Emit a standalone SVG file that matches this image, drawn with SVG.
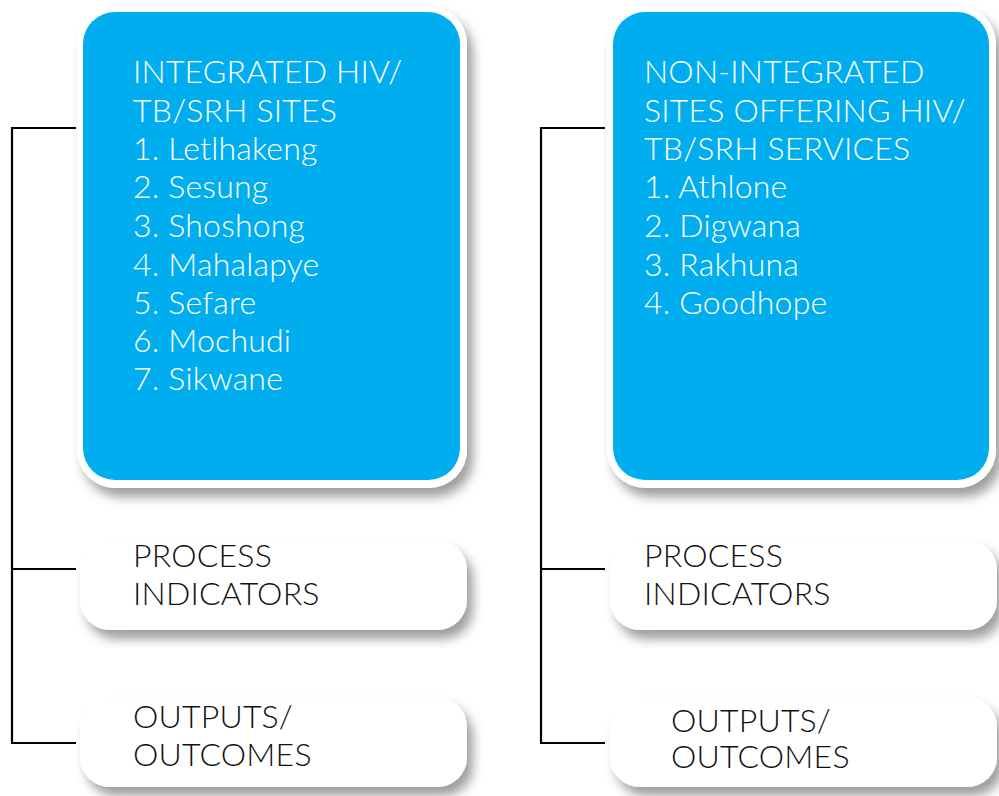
<svg xmlns="http://www.w3.org/2000/svg" width="999" height="796" viewBox="0 0 999 796">
  <defs>
    <filter id="shadow" x="-10%" y="-10%" width="125%" height="130%">
      <feDropShadow dx="6" dy="9" stdDeviation="5.5" flood-color="#000" flood-opacity="0.38"/>
    </filter>
    <style>
      .frame { fill: #ffffff; filter: url(#shadow); }
      .site { fill: #00aeef; }
      .txt-w { fill: #ffffff; font-family: Lato, "Noto Sans", sans-serif; font-size: 32px; font-weight: 300; letter-spacing: 0.2px; }
      .txt-k { fill: #111111; font-family: Lato, "Noto Sans", sans-serif; font-size: 32px; font-weight: 300; letter-spacing: 0.2px; }
      .link { fill: none; stroke: #000; stroke-width: 2.2; }
    </style>
  </defs>
  <rect width="999" height="796" fill="#ffffff"/>

  <!-- tree connectors -->
  <g id="connectors">
    <path class="link" d="M76 128 H12 V743 H76 M12 569 H76"/>
    <path class="link" d="M605 128 H541 V743 H605 M541 569 H605"/>
  </g>

  <!-- left column -->
  <g id="integrated-sites">
    <rect class="frame" x="77" y="6" width="390" height="482" rx="38"/>
    <rect class="site" x="83" y="12" width="377" height="468" rx="32"/>
    <text class="txt-w" x="133" y="83">INTEGRATED HIV/</text>
    <text class="txt-w" x="133" y="122">TB/SRH SITES</text>
    <text class="txt-w" x="133" y="160">1. Letlhakeng</text>
    <text class="txt-w" x="133" y="198">2. Sesung</text>
    <text class="txt-w" x="133" y="237">3. Shoshong</text>
    <text class="txt-w" x="133" y="276">4. Mahalapye</text>
    <text class="txt-w" x="133" y="314">5. Sefare</text>
    <text class="txt-w" x="133" y="352">6. Mochudi</text>
    <text class="txt-w" x="133" y="390">7. Sikwane</text>
  </g>
  <g id="integrated-process">
    <rect class="frame" x="80" y="540" width="387" height="90" rx="30"/>
    <text class="txt-k" x="133" y="567">PROCESS</text>
    <text class="txt-k" x="133" y="605">INDICATORS</text>
  </g>
  <g id="integrated-outputs">
    <rect class="frame" x="80" y="697" width="387" height="90" rx="30"/>
    <text class="txt-k" x="133" y="728">OUTPUTS/</text>
    <text class="txt-k" x="133" y="766">OUTCOMES</text>
  </g>

  <!-- right column -->
  <g id="non-integrated-sites">
    <rect class="frame" x="607" y="6" width="389" height="482" rx="38"/>
    <rect class="site" x="613" y="12" width="376" height="468" rx="32"/>
    <text class="txt-w" x="644" y="83">NON-INTEGRATED</text>
    <text class="txt-w" x="644" y="122">SITES OFFERING HIV/</text>
    <text class="txt-w" x="644" y="160">TB/SRH SERVICES</text>
    <text class="txt-w" x="644" y="198">1. Athlone</text>
    <text class="txt-w" x="644" y="237">2. Digwana</text>
    <text class="txt-w" x="644" y="276">3. Rakhuna</text>
    <text class="txt-w" x="644" y="314">4. Goodhope</text>
  </g>
  <g id="non-integrated-process">
    <rect class="frame" x="610" y="540" width="387" height="90" rx="30"/>
    <text class="txt-k" x="644" y="567">PROCESS</text>
    <text class="txt-k" x="644" y="605">INDICATORS</text>
  </g>
  <g id="non-integrated-outputs">
    <rect class="frame" x="610" y="697" width="387" height="90" rx="30"/>
    <text class="txt-k" x="671" y="732">OUTPUTS/</text>
    <text class="txt-k" x="671" y="768">OUTCOMES</text>
  </g>
</svg>
